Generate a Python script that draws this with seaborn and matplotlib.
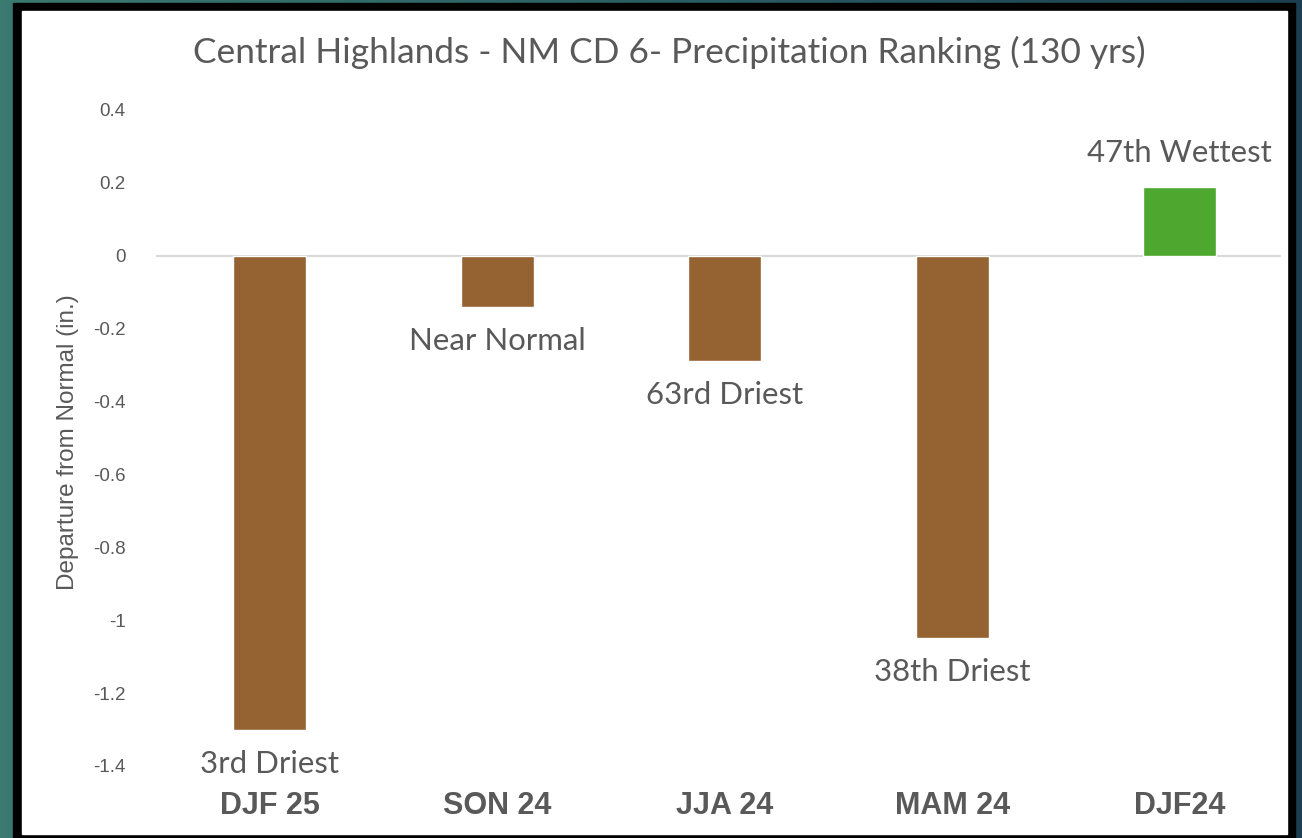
import matplotlib.pyplot as plt
import matplotlib.patches as mpatches
import numpy as np
import pandas as pd
import seaborn as sns

# Chart data
seasons = ["DJF 25", "SON 24", "JJA 24", "MAM 24", "DJF24"]
departure = [-1.30, -0.14, -0.29, -1.05, 0.19]
ranking = ["3rd Driest", "Near Normal", "63rd Driest", "38th Driest", "47th Wettest"]
bar_colors = ["#956232", "#956232", "#956232", "#956232", "#4ea72e"]
y_ticks = [0.4, 0.2, 0, -0.2, -0.4, -0.6, -0.8, -1, -1.2, -1.4]

df = pd.DataFrame({"season": seasons, "departure": departure})

sns.set_theme(style="white")
plt.rcParams["font.family"] = ["Lato", "DejaVu Sans"]
grey = "#595959"

fig = plt.figure(figsize=(13.02, 8.38), dpi=100)

# dark teal backdrop with a black frame around the white chart card
bg = fig.add_axes([0, 0, 1, 1], zorder=-10)
grad = np.linspace(0, 1, 256).reshape(1, -1)
bg.imshow(grad, aspect="auto", extent=[0, 1, 0, 1],
          cmap=sns.blend_palette(["#3b7a70", "#2a5f62", "#1b3f50"], as_cmap=True))
bg.set_axis_off()
W, H = 1302, 838
fig.patches.append(mpatches.Rectangle((13 / W, 0), (1295 - 13) / W, (838 - 3) / H,
                                      transform=fig.transFigure, color="black", zorder=-5))
fig.patches.append(mpatches.Rectangle((22 / W, (838 - 834) / H), (1287 - 22) / W, (834 - 11) / H,
                                      transform=fig.transFigure, color="white", zorder=-4))

ax = fig.add_axes([156 / W, 1 - 766 / H, 1137.5 / W, 656 / H])
ax.patch.set_alpha(0)

sns.barplot(data=df, x="season", y="departure", hue="season", palette=bar_colors,
            width=0.32, legend=False, ax=ax, saturation=1)

ax.axhline(0, xmin=0, xmax=(1280 - 156) / 1137.5, color="#d9d9d9", lw=1.5, zorder=0)
ax.set_ylim(-1.4, 0.4)
ax.set_xlim(-0.5, len(seasons) - 0.5)
ax.set_yticks(y_ticks)
ax.set_yticklabels([f"{t:g}" for t in y_ticks], fontsize=13.5, color=grey,
                   family=["Liberation Sans", "DejaVu Sans"])
ax.tick_params(axis="y", length=0, pad=22)
ax.tick_params(axis="x", length=0, pad=18)
for lbl in ax.get_xticklabels():
    lbl.set_fontsize(22)
    lbl.set_fontweight("bold")
    lbl.set_color(grey)
    lbl.set_family(["Liberation Sans", "DejaVu Sans"])
sns.despine(ax=ax, left=True, bottom=True)
ax.set_xlabel("")
ax.set_ylabel("")

# ranking labels at the end of each bar
for patch, val, text in zip(ax.patches, departure, ranking):
    x = patch.get_x() + patch.get_width() / 2
    off = 24.5 if val > 0 else -24.5
    ax.annotate(text, (x, val), xytext=(0, off), textcoords="offset points",
                ha="center", va="center", fontsize=22.4, color=grey)

fig.text(669 / W, 1 - 52 / H, "Central Highlands - NM CD 6- Precipitation Ranking (130 yrs)",
         ha="center", va="center", fontsize=25.4, color=grey)
fig.text(68 / W, 1 - 442 / H, "Departure from Normal (in.)", rotation=90,
         ha="center", va="center", fontsize=17.5, color=grey,
         family=["Liberation Sans", "DejaVu Sans"])

fig.savefig("out.png", dpi=100)
